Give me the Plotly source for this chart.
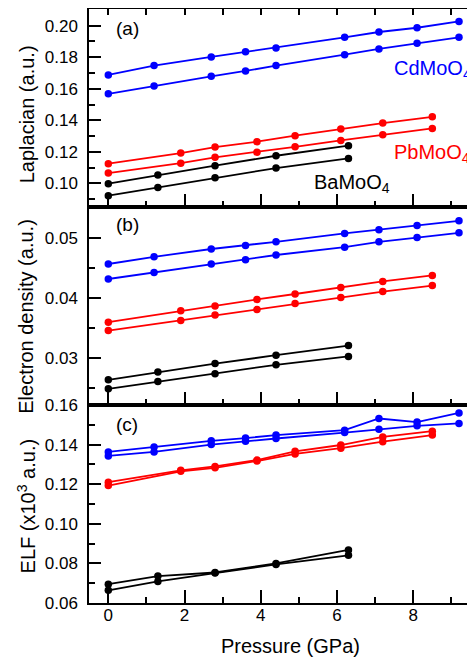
import plotly.graph_objects as go

# Pressure (GPa)
P_cd = [0, 1.2, 2.7, 3.6, 4.4, 6.2, 7.1, 8.1, 9.2]
P_pb = [0, 1.9, 2.8, 3.9, 4.9, 6.1, 7.2, 8.5]
P_ba = [0, 1.3, 2.8, 4.4, 6.3]

# (a) Laplacian
lap_cd_1 = [0.1688, 0.1747, 0.1802, 0.1834, 0.1859, 0.1926, 0.1960, 0.1987, 0.2027]
lap_cd_2 = [0.1568, 0.1618, 0.1679, 0.1713, 0.1747, 0.1816, 0.1853, 0.1888, 0.1926]
lap_pb_1 = [0.1125, 0.1192, 0.1230, 0.1264, 0.1302, 0.1344, 0.1382, 0.1422]
lap_pb_2 = [0.1065, 0.1128, 0.1165, 0.1198, 0.1232, 0.1272, 0.1308, 0.1348]
lap_ba_1 = [0.0998, 0.1053, 0.1112, 0.1175, 0.1239]
lap_ba_2 = [0.0922, 0.0973, 0.1036, 0.1097, 0.1158]

# (b) Electron density
rho_cd_1 = [0.0456, 0.0468, 0.0481, 0.0487, 0.0493, 0.0507, 0.0513, 0.0520, 0.0528]
rho_cd_2 = [0.0431, 0.0442, 0.0456, 0.0463, 0.0471, 0.0484, 0.0493, 0.0500, 0.0508]
rho_pb_1 = [0.0359, 0.0378, 0.0386, 0.0397, 0.0406, 0.0417, 0.0427, 0.0437]
rho_pb_2 = [0.0345, 0.0362, 0.0371, 0.0380, 0.0390, 0.0400, 0.0410, 0.0420]
rho_ba_1 = [0.0263, 0.0276, 0.0290, 0.0304, 0.0320]
rho_ba_2 = [0.0248, 0.0260, 0.0273, 0.0288, 0.0302]

# (c) ELF
elf_cd_1 = [0.1363, 0.1388, 0.1419, 0.1433, 0.1448, 0.1473, 0.1532, 0.1514, 0.1560]
elf_cd_2 = [0.1343, 0.1363, 0.1400, 0.1417, 0.1431, 0.1461, 0.1478, 0.1495, 0.1507]
elf_pb_1 = [0.1210, 0.1270, 0.1290, 0.1322, 0.1366, 0.1398, 0.1439, 0.1468]
elf_pb_2 = [0.1193, 0.1265, 0.1283, 0.1317, 0.1353, 0.1382, 0.1415, 0.1448]
elf_ba_1 = [0.0695, 0.0736, 0.0754, 0.0800, 0.0868]
elf_ba_2 = [0.0664, 0.0709, 0.0751, 0.0795, 0.0841]

species_labels = ["CdMoO<sub>4</sub>", "PbMoO<sub>4</sub>", "BaMoO<sub>4</sub>"]
panel_labels = ["(a)", "(b)", "(c)"]
y_titles = ["Laplacian (a.u.)", "Electron density (a.u.)", "ELF (x10<sup>3</sup> a.u.)"]
x_title = "Pressure (GPa)"

BLUE, RED, BLACK = "#0000FF", "#FF0000", "#000000"
FONT = "Liberation Sans, Arial, Helvetica, sans-serif"

fig = go.Figure()

panels = [
    ("x", "y", [(P_cd, lap_cd_1, BLUE), (P_cd, lap_cd_2, BLUE), (P_pb, lap_pb_1, RED),
                (P_pb, lap_pb_2, RED), (P_ba, lap_ba_1, BLACK), (P_ba, lap_ba_2, BLACK)]),
    ("x2", "y2", [(P_cd, rho_cd_1, BLUE), (P_cd, rho_cd_2, BLUE), (P_pb, rho_pb_1, RED),
                  (P_pb, rho_pb_2, RED), (P_ba, rho_ba_1, BLACK), (P_ba, rho_ba_2, BLACK)]),
    ("x3", "y3", [(P_cd, elf_cd_1, BLUE), (P_cd, elf_cd_2, BLUE), (P_pb, elf_pb_1, RED),
                  (P_pb, elf_pb_2, RED), (P_ba, elf_ba_1, BLACK), (P_ba, elf_ba_2, BLACK)]),
]

for xa, ya, series in panels:
    for xs, ys, col in series:
        fig.add_trace(go.Scatter(
            x=xs, y=ys, xaxis=xa, yaxis=ya, mode="lines+markers",
            line=dict(color=col, width=1.8),
            marker=dict(color=col, size=7.5, symbol="circle"),
            showlegend=False, hoverinfo="skip"))

# dummy trace for the top tick axis of panel (a)
fig.add_trace(go.Scatter(x=[None], y=[None], xaxis="x4", yaxis="y",
                         showlegend=False, hoverinfo="skip"))

XR = [-0.507, 9.62]
common_x = dict(range=XR, showline=True, linecolor="black", linewidth=1.5, mirror=True,
                ticks="inside", ticklen=13, tickwidth=1.5, tickcolor="black",
                dtick=2, tick0=0, showgrid=False, zeroline=False, automargin=False,
                minor=dict(dtick=1, ticks="inside", ticklen=6, tickwidth=1.5, tickcolor="black"),
                tickfont=dict(family=FONT, size=17, color="black"))
common_y = dict(showline=True, linecolor="black", linewidth=1.5, mirror=False,
                ticks="inside", ticklen=12, tickwidth=1.5, tickcolor="black",
                showgrid=False, zeroline=False, tickformat=".2f", automargin=False,
                tickfont=dict(family=FONT, size=17, color="black"),
                ticklabelstandoff=6)

# page body has an 8px margin, so the figure is 8px smaller than the window
fig.update_layout(
    width=467, height=649,
    margin=dict(l=81, r=0, t=1, b=54, autoexpand=False),
    plot_bgcolor="white", paper_bgcolor="white",
    font=dict(family=FONT, color="black"),
    xaxis=dict(common_x, anchor="y", showticklabels=False),
    xaxis2=dict(common_x, anchor="y2", showticklabels=False),
    xaxis3=dict(common_x, anchor="y3", showticklabels=True, ticklabelstandoff=-4),
    xaxis4=dict(range=XR, overlaying="x", anchor="y", side="top", ticks="inside",
                dtick=1, tick0=0, ticklen=6, tickwidth=1.5, tickcolor="black", automargin=False,
                showticklabels=False, showline=False, showgrid=False, zeroline=False),
    yaxis=dict(common_y, domain=[0.6667, 1.0], range=[0.0850, 0.2106], dtick=0.02, tick0=0,
               minor=dict(dtick=0.01, ticks="inside", ticklen=6, tickwidth=1.5, tickcolor="black")),
    yaxis2=dict(common_y, domain=[0.3333, 0.6667], range=[0.0221, 0.0551], dtick=0.01, tick0=0,
                minor=dict(dtick=0.005, ticks="inside", ticklen=6, tickwidth=1.5, tickcolor="black")),
    yaxis3=dict(common_y, domain=[0.0, 0.3333], range=[0.06, 0.16], dtick=0.02, tick0=0,
                minor=dict(dtick=0.01, ticks="inside", ticklen=6, tickwidth=1.5, tickcolor="black")),
)

ann = []
# panel labels
for lbl, yp in zip(panel_labels, [0.968, 0.637, 0.301]):
    ann.append(dict(text=lbl, x=0.066, y=yp, xref="paper", yref="paper",
                    xanchor="left", yanchor="middle", showarrow=False,
                    font=dict(family=FONT, size=19, color="black")))
# species labels
for lbl, xp, yp, col in zip(species_labels, [0.785, 0.786, 0.578], [0.898, 0.756, 0.707],
                            [BLUE, RED, BLACK]):
    ann.append(dict(text=lbl, x=xp, y=yp, xref="paper", yref="paper",
                    xanchor="left", yanchor="middle", showarrow=False,
                    font=dict(family=FONT, size=20, color=col)))
# y titles
for t, yp in zip(y_titles, [0.8235, 0.4827, 0.1634]):
    ann.append(dict(text=t, x=-0.162, y=yp, xref="paper", yref="paper",
                    xanchor="center", yanchor="middle", textangle=-90, showarrow=False,
                    font=dict(family=FONT, size=20, color="black")))
# x title
ann.append(dict(text=x_title, x=0.522, y=-0.0722, xref="paper", yref="paper",
                xanchor="center", yanchor="middle", showarrow=False,
                font=dict(family=FONT, size=20, color="black")))
fig.update_layout(annotations=ann)

fig.write_html("out.html")
